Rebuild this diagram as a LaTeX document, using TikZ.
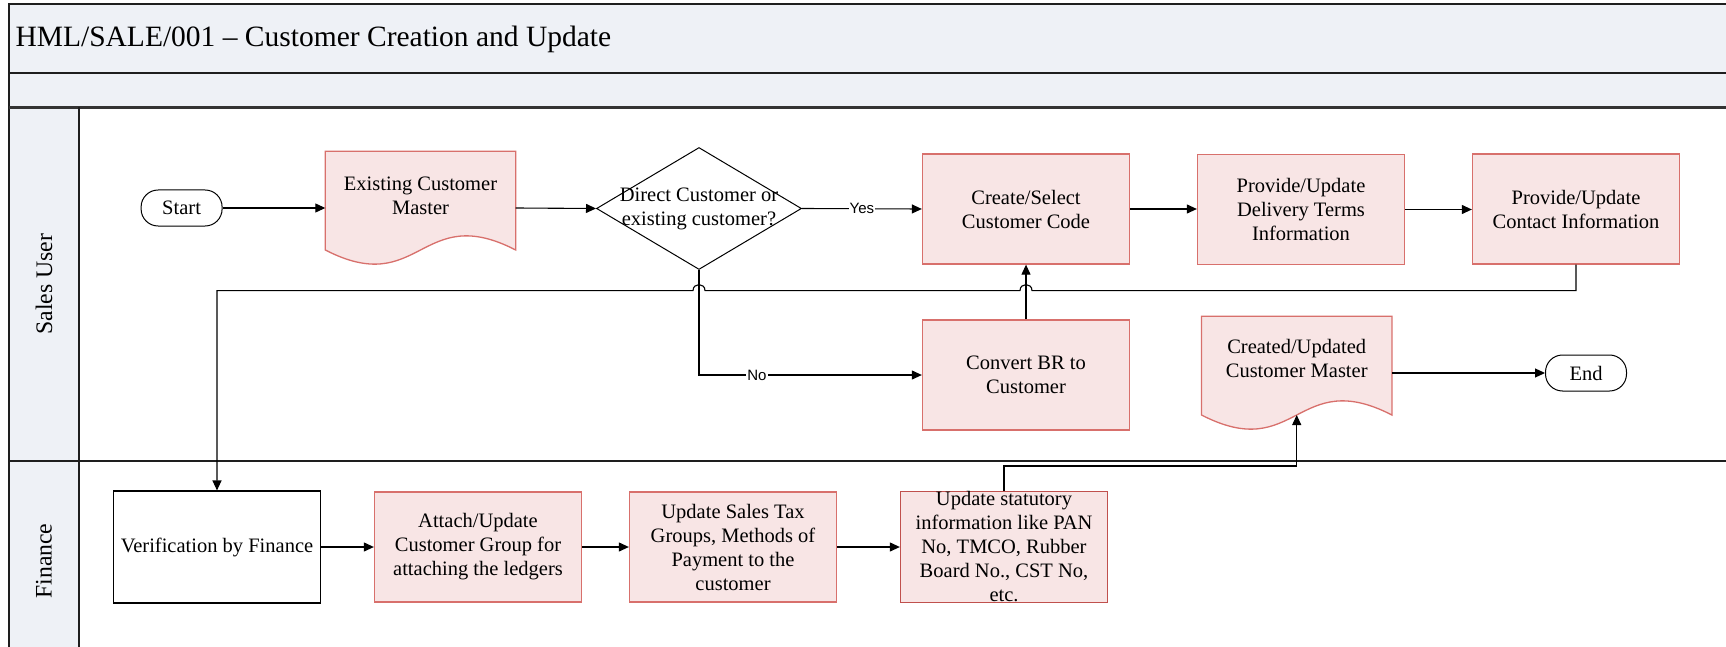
\documentclass[tikz,border=0pt]{standalone}
\usepackage{fontspec}
\setmainfont{Liberation Serif}
\newfontfamily\flagfont{Liberation Sans}
\usetikzlibrary{shapes.geometric,arrows.meta,calc}

\definecolor{bandfill}{HTML}{EEF1F6}
\definecolor{procfill}{HTML}{F8E5E5}
\definecolor{procline}{HTML}{D8706C}
\definecolor{procdark}{HTML}{C0504D}
\definecolor{frameline}{HTML}{1E1E1E}

% document symbol: flat top, wavy bottom drawn over an invisible frame node
\newcommand\docsymbol[1]{%
  \path[docline] (#1.north west) -- (#1.north east) -- ([yshift=14.7pt]#1.south east)
    .. controls ([yshift=63.7pt]#1.south) and ([yshift=-34.3pt]#1.south) ..
    ([yshift=14.7pt]#1.south west) -- cycle;}

\begin{document}
\begin{tikzpicture}[x=1pt,y=-1pt,
  txt/.style={font=\fontsize{20.5}{24}\selectfont, align=center},
  proc/.style={txt, draw=procline, fill=procfill, line width=1.3pt,
    minimum width=207pt, minimum height=110pt, inner sep=0pt},
  plainbox/.style={txt, draw=black, fill=white, line width=1.1pt,
    minimum width=207pt, minimum height=112pt, inner sep=0pt},
  term/.style={txt, draw=black, fill=white, line width=1pt, rounded corners=17pt,
    minimum width=81pt, minimum height=36pt, inner sep=0pt},
  docframe/.style={minimum width=190pt, minimum height=113pt, inner sep=0pt},
  docline/.style={draw=procline, fill=procfill, line width=1.3pt},
  decision/.style={diamond, draw=black, fill=white, line width=1pt,
    minimum width=205pt, minimum height=122pt, inner sep=0pt},
  conn/.style={draw=black, line width=1.1pt, -{Triangle[length=10pt,width=9pt]}},
  flag/.style={font=\flagfont\fontsize{15}{17}\selectfont, fill=white, inner sep=1pt},
  lanename/.style={font=\fontsize{23.7}{28}\selectfont, rotate=90},
  frame/.style={draw=frameline, line width=1.6pt},
]
\useasboundingbox (0,0) rectangle (1726,647);
\clip (0,0) rectangle (1726,647);

% pool frame, title band and lane headers
\fill[bandfill] (9,4) rectangle (1740,107.5);
\fill[bandfill] (9,107.5) rectangle (79,660);
\draw[frame] (1740,4) -- (9,4) -- (9,660);
\draw[frame] (9,73) -- (1740,73);
\draw[frame, line width=2.2pt, draw=black!80] (9,107.5) -- (1740,107.5);
\draw[frame] (79,107.5) -- (79,660);
\draw[frame] (9,461) -- (1740,461);

\node[anchor=west, font=\fontsize{29.5}{34}\selectfont] (title) at (12,39)
  {HML/SALE/001 – Customer Creation and Update};
\node[lanename] (lsales) at (44,284) {Sales User};
\node[lanename] (lfin) at (44,561) {Finance};

% Sales User lane
\node[term] (start) at (181.6,208) {Start};

\node[docframe] (exist) at (420.5,208) {};
\docsymbol{exist}
\node[txt] (existtxt) at ([yshift=12.5pt]exist.center) {Existing Customer\\Master};

\node[decision] (dec) at (699,208.5) {};
\node[txt] (dectxt) at (dec.center) {Direct Customer or\\existing customer?};

\node[proc] (create) at (1026,209) {Create/Select\\Customer Code};
\node[proc] (deliv) at (1301,209.5) {Provide/Update\\Delivery Terms\\Information};
\node[proc] (contact) at (1576,209) {Provide/Update\\Contact Information};
\node[proc] (conv) at (1026,375) {Convert BR to\\Customer};

\node[docframe] (made) at (1296.7,373) {};
\docsymbol{made}
\node[txt] (madetxt) at ([yshift=14.5pt]made.center) {Created/Updated\\Customer Master};

\node[term] (end) at (1586,373) {End};

% Finance lane
\node[plainbox] (verif) at (217,547) {Verification by Finance};
\node[proc] (attach) at (478,547) {Attach/Update\\Customer Group for\\attaching the ledgers};
\node[proc] (tax) at (733,547) {Update Sales Tax\\Groups, Methods of\\Payment to the\\customer};
\node[proc, draw=procdark] (stat) at (1004,547)
  {Update statutory\\information like PAN\\No, TMCO, Rubber\\Board No., CST No,\\etc.};

% routing levels
\coordinate (bus) at (0,290.6);
\coordinate (feed) at (0,466);

% connectors
\draw[conn] (start.east) -- (exist.west);
\draw[conn] (exist.east) -- (dec.west);
\draw[conn] (dec.east) -- node[flag] {Yes} (create.west);
\draw[conn] (create.east) -- (create.east -| deliv.west);
\draw[conn] (deliv.east) -- (deliv.east -| contact.west);
\draw[conn] (conv.north) -- (create.south);
\draw[conn] (dec.south) |- node[flag, pos=0.63] {No} (conv.west);

\draw[conn] (contact.south) -- (contact.south |- bus)
  -- ($(conv.north |- bus)+(6,0)$) .. controls +(0,-8) and +(0,-8) .. ($(conv.north |- bus)+(-6,0)$)
  -- ($(dec.south |- bus)+(6,0)$) .. controls +(0,-8) and +(0,-8) .. ($(dec.south |- bus)+(-6,0)$)
  -- (verif.north |- bus) -- (verif.north);

\draw[conn] (verif.east) -- (attach.west);
\draw[conn] (attach.east) -- (tax.west);
\draw[conn] (tax.east) -- (stat.west);

\draw[conn] (stat.north) -- (stat.north |- feed) -- (made.south |- feed)
  -- ([yshift=14.7pt]made.south);
\draw[conn] (made.east) -- (made.east -| end.west);
\end{tikzpicture}
\end{document}
